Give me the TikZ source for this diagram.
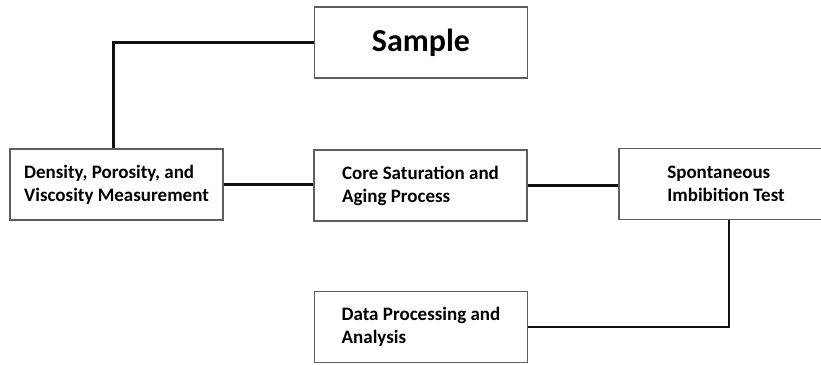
\documentclass[tikz,border=0pt]{standalone}
\usepackage{fontspec}
\setmainfont{Carlito}
\usepackage{tikz}
\usetikzlibrary{positioning, calc}
\definecolor{framegray}{HTML}{5E5E5E}
\definecolor{linkblack}{HTML}{111111}

\begin{document}
\begin{tikzpicture}[x=1pt, y=1pt,
  stagebox/.style={draw=framegray, line width=1.3pt, fill=white, minimum width=213pt, minimum height=71pt, align=left, inner sep=0pt, font=\fontsize{19}{23}\selectfont\bfseries},
  link/.style={linkblack, line width=2.6pt}]
  \useasboundingbox (0,0) rectangle (821,-364);

  % Boxes
  \node[stagebox, font=\fontsize{32}{32}\selectfont\bfseries] (sample) at (421, -42.5) {Sample};
  \node[stagebox] (density) at (116.5, -184.5) {Density, Porosity, and\\Viscosity Measurement};
  \node[stagebox] (core) at (420.5, -185.5) {Core Saturation and\\Aging Process};
  \node[stagebox, minimum width=214pt] (imbibition) at (726, -184) {Spontaneous\\Imbibition Test};
  \node[stagebox] (analysis) at (421, -327) {Data Processing and\\Analysis};

  % Connectors
  \draw[link] (sample.west) -| ([xshift=-3pt]density.north);
  \draw[link] (density.east) -- (density.east -| core.west);
  \draw[link] (core.east) -- (core.east -| imbibition.west);
  \draw[link] ([xshift=3pt]imbibition.south) |- (analysis.east);
\end{tikzpicture}
\end{document}
